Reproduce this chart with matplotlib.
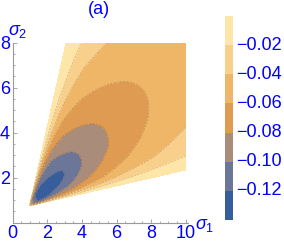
import numpy as np
import matplotlib
matplotlib.use("Agg")
import matplotlib.pyplot as plt
from matplotlib.colors import ListedColormap, BoundaryNorm
from matplotlib.transforms import blended_transform_factory

# ---- data ----
levels = [-0.14, -0.12, -0.10, -0.08, -0.06, -0.04, -0.02, 0.0]
band_colors = ["#375e9c", "#6c7698", "#a98c7a", "#e09b52", "#f0b668", "#f9cf8c", "#fee5a8"]
cbar_ticks = [-0.12, -0.10, -0.08, -0.06, -0.04, -0.02]
cbar_labels = ["\u22120.12", "\u22120.10", "\u22120.08", "\u22120.06", "\u22120.04", "\u22120.02"]
x_ticks = [0, 2, 4, 6, 8, 10]
y_ticks = [2, 4, 6, 8]

# defined region: a wedge from the tip to where its edges leave the frame
tip = (0.96, 0.74)
upper_edge_point = (3.08, 8.0)
lower_edge_point = (10.0, 2.34)
axis_angle_deg = 37.0          # direction of the elongated contour loops

# contour loops start at the tip; their length (semi-major "a") per level
loop_a = [0.0, 0.45, 0.85, 1.25, 1.834, 2.77, 4.19, 6.5, 9.8, 15.0]
loop_f = [-0.142, -0.138, -0.131, -0.120, -0.100, -0.080, -0.060, -0.040, -0.020, 0.0]
# width / length ratio of the loops
ratio_a = [0.0, 1.25, 1.834, 2.77, 20.0]
ratio_v = [0.26, 0.30, 0.47, 0.49, 0.49]
# fade toward the wedge edges (angle from +x around the tip)
edge_deg = [10.04, 12.0, 14.0, 17.0, 21.0, 25.0, 30.0, 58.0, 63.0, 67.2, 70.0, 73.7]
edge_w = [0.0, 0.33, 0.62, 0.83, 0.94, 0.98, 1.0, 1.0, 0.92, 0.72, 0.45, 0.0]
# fade right at the tip (distance from the tip)
tip_r = [0.0, 0.05, 0.12, 0.2, 0.304, 0.534, 0.8, 1.2, 2.0, 30.0]
tip_w = [0.0, 0.2, 0.42, 0.6, 0.735, 0.876, 0.95, 0.99, 1.0, 1.0]

# ---- field ----
xs = np.linspace(0, 10, 1001)
ys = np.linspace(0, 8, 801)
X, Y = np.meshgrid(xs, ys)
dx = X - tip[0]
dy = Y - tip[1]
th = np.radians(axis_angle_deg)
u = dx * np.cos(th) + dy * np.sin(th)
v = -dx * np.sin(th) + dy * np.cos(th)
uu = np.maximum(u, 1e-6)
lo = np.zeros_like(uu)
hi = np.full_like(uu, 200.0)
for _ in range(50):
    mid = 0.5 * (lo + hi)
    g = 2 * mid * uu - uu ** 2 - v ** 2 / np.interp(mid, ratio_a, ratio_v) ** 2
    pos = g > 0
    hi = np.where(pos, mid, hi)
    lo = np.where(pos, lo, mid)
A = 0.5 * (lo + hi)
r = np.hypot(dx, dy)
phi = np.degrees(np.arctan2(dy, dx))
Fv = np.interp(A, loop_a, loop_f) * np.interp(phi, edge_deg, edge_w) * np.interp(r, tip_r, tip_w)
phi_a = np.degrees(np.arctan2(upper_edge_point[1] - tip[1], upper_edge_point[0] - tip[0]))
phi_b = np.degrees(np.arctan2(lower_edge_point[1] - tip[1], lower_edge_point[0] - tip[0]))
mask = (phi < phi_b) | (phi > phi_a) | (dy < 0)
Fm = np.ma.array(np.clip(Fv, -0.1399, 0.0), mask=mask)

# ---- figure ----
plt.rcParams["font.family"] = ["Liberation Sans", "DejaVu Sans"]
plt.rcParams["mathtext.fontset"] = "custom"
plt.rcParams["mathtext.rm"] = "Liberation Sans"
plt.rcParams["mathtext.it"] = "Liberation Sans:italic"

W, H = 284, 244
fig = plt.figure(figsize=(W / 100, H / 100), dpi=100)
x0, x1 = 12.7, 188.3
ax = fig.add_axes([x0 / W, (H - 222.7) / H, (x1 - x0) / W, 180.0 / H])

cmap = ListedColormap(band_colors)
norm = BoundaryNorm(levels, cmap.N)
ax.contourf(X, Y, Fm, levels=levels, cmap=cmap, norm=norm)
ax.contour(X, Y, Fm, levels=levels[1:-1], colors="#4a3a2a", linewidths=0.45, alpha=0.3)

ax.set_xlim(0, 10.15)
ax.set_ylim(0, 8)
for s in ["top", "right"]:
    ax.spines[s].set_visible(False)
for s in ["left", "bottom"]:
    ax.spines[s].set_color("#9a9a9a")
    ax.spines[s].set_linewidth(0.8)
ax.set_xticks(x_ticks)
ax.set_yticks(y_ticks)
ax.set_xticks(np.arange(0, 10.01, 0.5), minor=True)
ax.set_yticks(np.arange(0.5, 8.01, 0.5), minor=True)
ax.tick_params(which="both", direction="in", color="#9a9a9a", width=0.6)
ax.tick_params(which="major", length=3.0, labelsize=13, labelcolor="blue", pad=2)
ax.tick_params(which="minor", length=1.6)

fig.text(99 / W, 1 - 10 / H, "(a)", color="blue", fontsize=13, ha="center", va="center")
fig.text(8 / W, 1 - 31 / H, r"$\sigma_2$", color="blue", fontsize=13, ha="left", va="center")
fig.text(195 / W, 1 - 226 / H, r"$\sigma_1$", color="blue", fontsize=13, ha="left", va="center")

# legend bar (no axis machinery: bands + text labels)
cax = fig.add_axes([225 / W, (H - 220) / H, 8 / W, 204 / H])
lv = np.array(levels)
mids = 0.5 * (lv[:-1] + lv[1:])
cax.pcolormesh([0, 1], lv, mids.reshape(-1, 1), cmap=cmap, norm=norm)
cax.set_xlim(0, 1)
cax.set_ylim(levels[0], levels[-1])
cax.axis("off")
tr = blended_transform_factory(cax.transAxes, cax.transData)
for val, lab in zip(cbar_ticks, cbar_labels):
    cax.text(1.45, val, lab, transform=tr, color="blue", fontsize=13,
             ha="left", va="center", clip_on=False)

fig.savefig("out.png", dpi=100)
